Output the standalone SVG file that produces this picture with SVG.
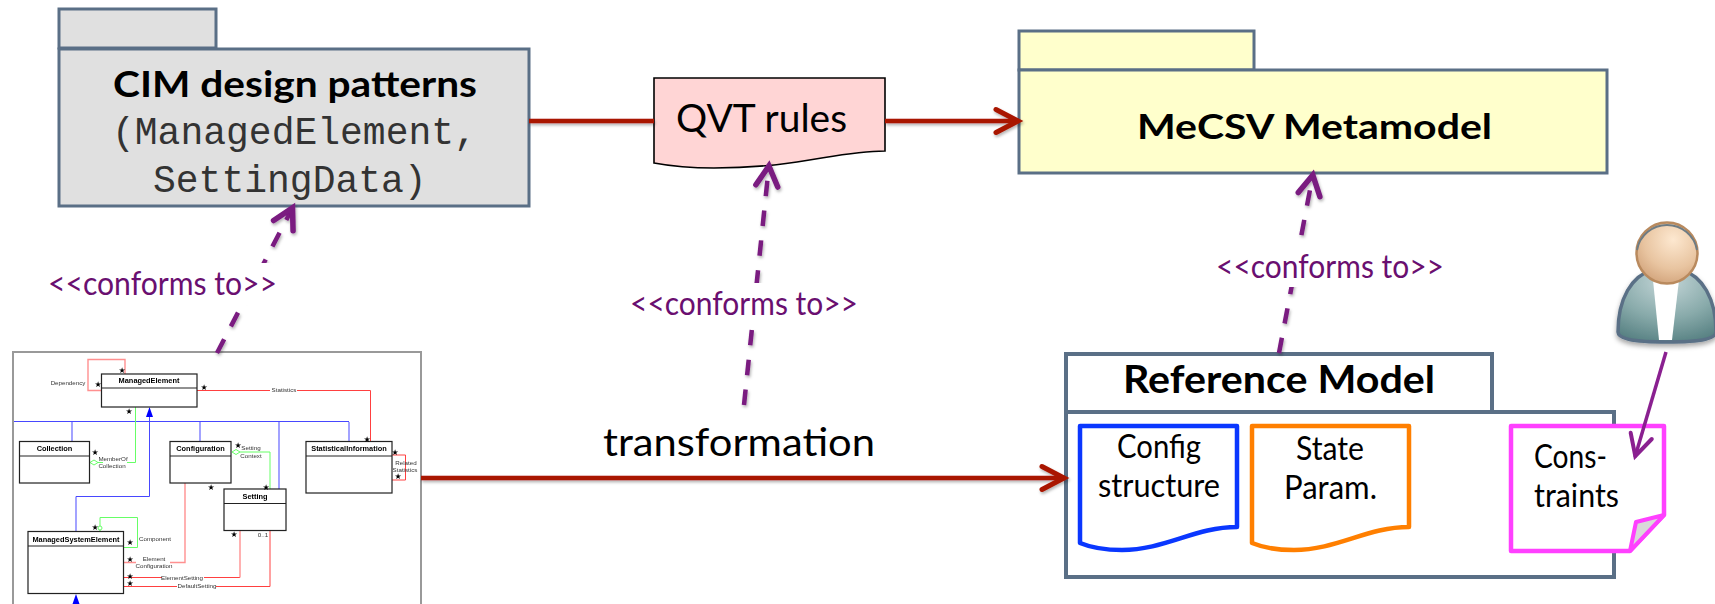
<svg xmlns="http://www.w3.org/2000/svg" width="1715" height="604" viewBox="0 0 1715 604">
<style>
text{font-family:"Lato","Open Sans","Liberation Sans",sans-serif;fill:#000}
.b{font-weight:700}
.m{font-family:"Liberation Mono",monospace;fill:#333;font-size:38px}
.c{fill:#6a0f70;font-size:32px}
.d{font-size:33px}
.pk{stroke:#5a6f86;stroke-width:3}
.cl{fill:#fff;stroke:#222;stroke-width:1.2}
.ct{font-family:"Liberation Sans",sans-serif;font-weight:700;font-size:7.4px;text-anchor:middle;fill:#000}
.ul{font-family:"Liberation Sans",sans-serif;font-size:6.2px;text-anchor:middle;fill:#333}
.st{font-family:"DejaVu Sans",sans-serif;font-size:8px;text-anchor:middle;fill:#000}
.l{fill:none}
.bl{stroke:#4646ff;stroke-width:1}
.bl2{stroke:#8c8cff;stroke-width:1.6}
.r{stroke:#ff4040;stroke-width:1}
.r2{stroke:#ff9090;stroke-width:1.4}
.g{stroke:#66ff66;stroke-width:1}
.red{stroke:#a91700;stroke-width:4.5;fill:none}
.pu{stroke:#7a1a80;stroke-width:4.5;fill:none;stroke-dasharray:15.5 14.5}
</style>
<defs>
<filter id="sh" x="-20%" y="-20%" width="140%" height="140%"><feDropShadow dx="1" dy="2" stdDeviation="1.5" flood-color="#000" flood-opacity=".3"/></filter>
<filter id="psh" x="-20%" y="-20%" width="140%" height="140%"><feDropShadow dx="0" dy="3" stdDeviation="2.5" flood-color="#000" flood-opacity=".35"/></filter>
<filter id="soft" x="-2%" y="-2%" width="104%" height="104%"><feGaussianBlur stdDeviation=".35"/></filter>
<marker id="ar" markerUnits="userSpaceOnUse" markerWidth="40" markerHeight="40" refX="32" refY="20" orient="auto" overflow="visible"><path d="M9 8.500L31 20L9 31.500" fill="none" stroke="#a91700" stroke-width="5" stroke-linecap="round"/></marker>
<marker id="ap" markerUnits="userSpaceOnUse" markerWidth="40" markerHeight="40" refX="32" refY="20" orient="auto" overflow="visible"><path d="M11 9L31 20L11 31" fill="none" stroke="#7a1a80" stroke-width="5.500" stroke-linecap="round"/></marker>
<marker id="aq" markerUnits="userSpaceOnUse" markerWidth="40" markerHeight="40" refX="32" refY="20" orient="auto" overflow="visible"><path d="M10 9L31 20L10 31" fill="none" stroke="#8a2090" stroke-width="4" stroke-linecap="round"/></marker>
<radialGradient id="bd" cx=".5" cy=".15" r=".95"><stop offset="0" stop-color="#c4d6d8"/><stop offset=".55" stop-color="#88aaaa"/><stop offset="1" stop-color="#4f7a7c"/></radialGradient>
<radialGradient id="hd" cx=".6" cy=".28" r=".8"><stop offset="0" stop-color="#fde8d0"/><stop offset=".6" stop-color="#e8c4a0"/><stop offset="1" stop-color="#cf9f76"/></radialGradient>
</defs>
<rect width="1715" height="604" fill="#fff"/>

<g id="cim-patterns">
<rect class="pk" x="59" y="9" width="157" height="39" fill="#e0e0e0"/>
<rect class="pk" x="59" y="49" width="470" height="157" fill="#e0e0e0"/>
<text class="b" x="113" y="97" font-size="37" textLength="364" lengthAdjust="spacingAndGlyphs">CIM design patterns</text>
<text class="m" x="112" y="144">(ManagedElement,</text>
<text class="m" x="153" y="192">SettingData)</text>
</g>

<g id="qvt-rules">
<path d="M654 78H885V151C835 151 800 168 714 168C690 168 670 166 654 163Z" fill="#ffd5d5" stroke="#000" stroke-width="1.6"/>
<text x="676" y="132" font-size="38" textLength="171" lengthAdjust="spacingAndGlyphs">QVT rules</text>
</g>

<g id="mecsv-metamodel">
<rect class="pk" x="1019" y="31" width="235" height="39" fill="#ffffcc"/>
<rect class="pk" x="1019" y="70" width="588" height="103" fill="#ffffcc"/>
<text class="b" x="1137" y="139" font-size="35" textLength="355" lengthAdjust="spacingAndGlyphs">MeCSV Metamodel</text>
</g>

<g id="uml-picture">
<rect x="13" y="352" width="408" height="260" fill="#fff" stroke="#999" stroke-width="2"/>
</g>

<g id="reference-model">
<rect x="1066" y="354" width="426" height="58" fill="#fff" stroke="#5a6f86" stroke-width="4"/>
<rect x="1066" y="412" width="548" height="165" fill="#fff" stroke="#5a6f86" stroke-width="4"/>
<text class="b" x="1123" y="393" font-size="38" textLength="312" lengthAdjust="spacingAndGlyphs">Reference Model</text>
</g>

<g id="config-structure">
<path d="M1080 426H1237V527C1195 527 1165 550 1122 550C1105 550 1092 548 1080 543Z" fill="#fff" stroke="#0a37ff" stroke-width="4.5" stroke-linejoin="round"/>
<text class="d" x="1117" y="458" textLength="84" lengthAdjust="spacingAndGlyphs">Config</text>
<text class="d" x="1098" y="497" textLength="122" lengthAdjust="spacingAndGlyphs">structure</text>
</g>

<g id="state-param">
<path d="M1252 426H1409V527C1367 527 1337 550 1294 550C1277 550 1264 548 1252 543Z" fill="#fff" stroke="#ff7f00" stroke-width="4.5" stroke-linejoin="round"/>
<text class="d" x="1296" y="460" textLength="68" lengthAdjust="spacingAndGlyphs">State</text>
<text class="d" x="1284" y="499" textLength="93" lengthAdjust="spacingAndGlyphs">Param.</text>
</g>

<g id="constraints">
<path d="M1511 426H1664V515L1630 551H1511Z" fill="#fff" stroke="#ff40ff" stroke-width="4.5" stroke-linejoin="round"/>
<path d="M1664 515L1636 522L1630 551Z" fill="#d9d9d9" stroke="#ff40ff" stroke-width="4" stroke-linejoin="round"/>
<text class="d" x="1534" y="468" textLength="73" lengthAdjust="spacingAndGlyphs">Cons-</text>
<text class="d" x="1534" y="507" textLength="85" lengthAdjust="spacingAndGlyphs">traints</text>
</g>

<g id="user">
<g filter="url(#psh)">
<path d="M1618 332C1618 298 1632 276 1652 270H1682C1702 276 1716 298 1716 332C1716 338 1704 342 1667 342C1630 342 1618 338 1618 332Z" fill="url(#bd)" stroke="#5a7086" stroke-width="3.5"/>
</g>
<path d="M1653 280H1679L1672 340H1659Z" fill="#fff"/>
<circle cx="1667" cy="253" r="30.500" fill="url(#hd)" stroke="#b98a5e" stroke-width="2.500"/>
<path d="M1637 250A30.500 30.500 0 0 1 1697 250" fill="none" stroke="#6e7c84" stroke-width="2"/>
</g>

<g id="connectors">
<g filter="url(#sh)">
<path class="red" d="M529 121H654"/>
<path class="red" d="M885 121H1019" marker-end="url(#ar)"/>
<path class="red" d="M421 478H1065" marker-end="url(#ar)"/>
<path class="pu" d="M217 353L293 207" marker-end="url(#ap)"/>
<path class="pu" d="M744 405L769 165" marker-end="url(#ap)"/>
<path class="pu" d="M1279 353L1313 174" marker-end="url(#ap)"/>
</g>
<path d="M1666 352L1635 457" fill="none" stroke="#8a2090" stroke-width="3.5" marker-end="url(#aq)"/>
<g id="uml-connectors" filter="url(#soft)">
<path class="l r2" d="M125 374V359.500H88V390.500H101"/>
<path class="l r" d="M197 390.500H370.500V441"/>
<path class="l bl" d="M14 421.500H349"/>
<path class="l bl2" d="M72 422V441M200 422V441M279 422V489M349 422V441M76 531V496.500"/>
<path class="l bl" d="M76 496.500H149.500V412"/>
<path d="M149.500 407L146 417H153Z" fill="#0000ff"/>
<path d="M76 594L72.500 604H79.500Z" fill="#0000ff"/>
<path class="l g" d="M135.500 407V462.500H127M98 462.500H103"/>
<path d="M90 462.500L94 460L98 462.500L94 465Z" fill="#fff" stroke="#66ff66"/>
<path class="l g" d="M240 452H270V489"/>
<path d="M232 452L236 449.500L240 452L236 454.500Z" fill="#fff" stroke="#66ff66"/>
<path class="l g" d="M100 531V517.500H137.500V547.500H123"/>
<circle cx="100" cy="528" r="2" fill="#fff" stroke="#66ff66"/>
<path class="l r2" d="M123 562.500H136M170 562.500H185V483"/>
<path class="l r" d="M123 577.500H240"/>
<path class="l r2" d="M240 577.500V531"/>
<path class="l r" d="M123 586.500H270V531"/>
<path class="l r" d="M392 455H405.500V480H392"/>
</g>
</g>

<g id="classes" filter="url(#soft)">
<g id="managed-element"><rect class="cl" x="101.500" y="374" width="95.500" height="33"/><path class="l" stroke="#222" d="M101.500 388H197"/><text class="ct" x="149" y="383">ManagedElement</text></g>
<g id="collection"><rect class="cl" x="19.500" y="441.500" width="70" height="41.500"/><path class="l" stroke="#222" d="M19.500 456H89.500"/><text class="ct" x="54.500" y="451">Collection</text></g>
<g id="configuration"><rect class="cl" x="170" y="441.500" width="61" height="41.500"/><path class="l" stroke="#222" d="M170 456H231"/><text class="ct" x="200.500" y="451">Configuration</text></g>
<g id="statistical-information"><rect class="cl" x="306" y="441.500" width="86" height="51.500"/><path class="l" stroke="#222" d="M306 456H392"/><text class="ct" x="349" y="451">StatisticalInformation</text></g>
<g id="setting"><rect class="cl" x="224" y="489" width="62" height="41.500"/><path class="l" stroke="#222" d="M224 503.500H286"/><text class="ct" x="255" y="499">Setting</text></g>
<g id="managed-system-element"><rect class="cl" x="28" y="531.500" width="95.500" height="62"/><path class="l" stroke="#222" d="M28 546H123.500"/><text class="ct" x="76" y="541.500">ManagedSystemElement</text></g>
</g>

<g id="uml-labels" filter="url(#soft)">
<rect x="270" y="387" width="27" height="6" fill="#fff"/>
<rect x="162" y="575" width="42" height="5" fill="#fff"/>
<rect x="177" y="584" width="39" height="5" fill="#fff"/>
<text class="ul" x="68" y="385">Dependency</text>
<text class="ul" x="284" y="392">Statistics</text>
<text class="ul" x="113" y="461">MemberOf</text>
<text class="ul" x="112" y="468">Collection</text>
<text class="ul" x="251" y="450">Setting</text>
<text class="ul" x="251" y="458">Context</text>
<text class="ul" x="406" y="465">Related</text>
<text class="ul" x="405" y="472">Statistics</text>
<text class="ul" x="155" y="541">Component</text>
<text class="ul" x="154" y="561">Element</text>
<text class="ul" x="154" y="568">Configuration</text>
<text class="ul" x="182" y="580">ElementSetting</text>
<text class="ul" x="197" y="588">DefaultSetting</text>
<text class="ul" x="263" y="537">0..1</text>
<text class="st" x="122" y="373">★</text>
<text class="st" x="98" y="387">★</text>
<text class="st" x="204" y="390">★</text>
<text class="st" x="129" y="414">★</text>
<text class="st" x="95" y="455">★</text>
<text class="st" x="238" y="448">★</text>
<text class="st" x="211" y="490">★</text>
<text class="st" x="266" y="490">★</text>
<text class="st" x="367" y="442">★</text>
<text class="st" x="395" y="455">★</text>
<text class="st" x="398" y="479">★</text>
<text class="st" x="95" y="530">★</text>
<text class="st" x="130" y="545">★</text>
<text class="st" x="130" y="562">★</text>
<text class="st" x="130" y="579">★</text>
<text class="st" x="130" y="586">★</text>
<text class="st" x="234" y="537">★</text>
</g>

<g id="connector-labels">
<rect x="48" y="263" width="229" height="42" fill="#fff"/>
<text class="c" x="48" y="295" textLength="229" lengthAdjust="spacingAndGlyphs">&lt;&lt;conforms to&gt;&gt;</text>
<rect x="630" y="283" width="228" height="42" fill="#fff"/>
<text class="c" x="630" y="315" textLength="228" lengthAdjust="spacingAndGlyphs">&lt;&lt;conforms to&gt;&gt;</text>
<rect x="1216" y="246" width="228" height="41" fill="#fff"/>
<text class="c" x="1216" y="278" textLength="228" lengthAdjust="spacingAndGlyphs">&lt;&lt;conforms to&gt;&gt;</text>
<text x="603" y="456" font-size="39" textLength="272" lengthAdjust="spacingAndGlyphs">transformation</text>
</g>
</svg>
